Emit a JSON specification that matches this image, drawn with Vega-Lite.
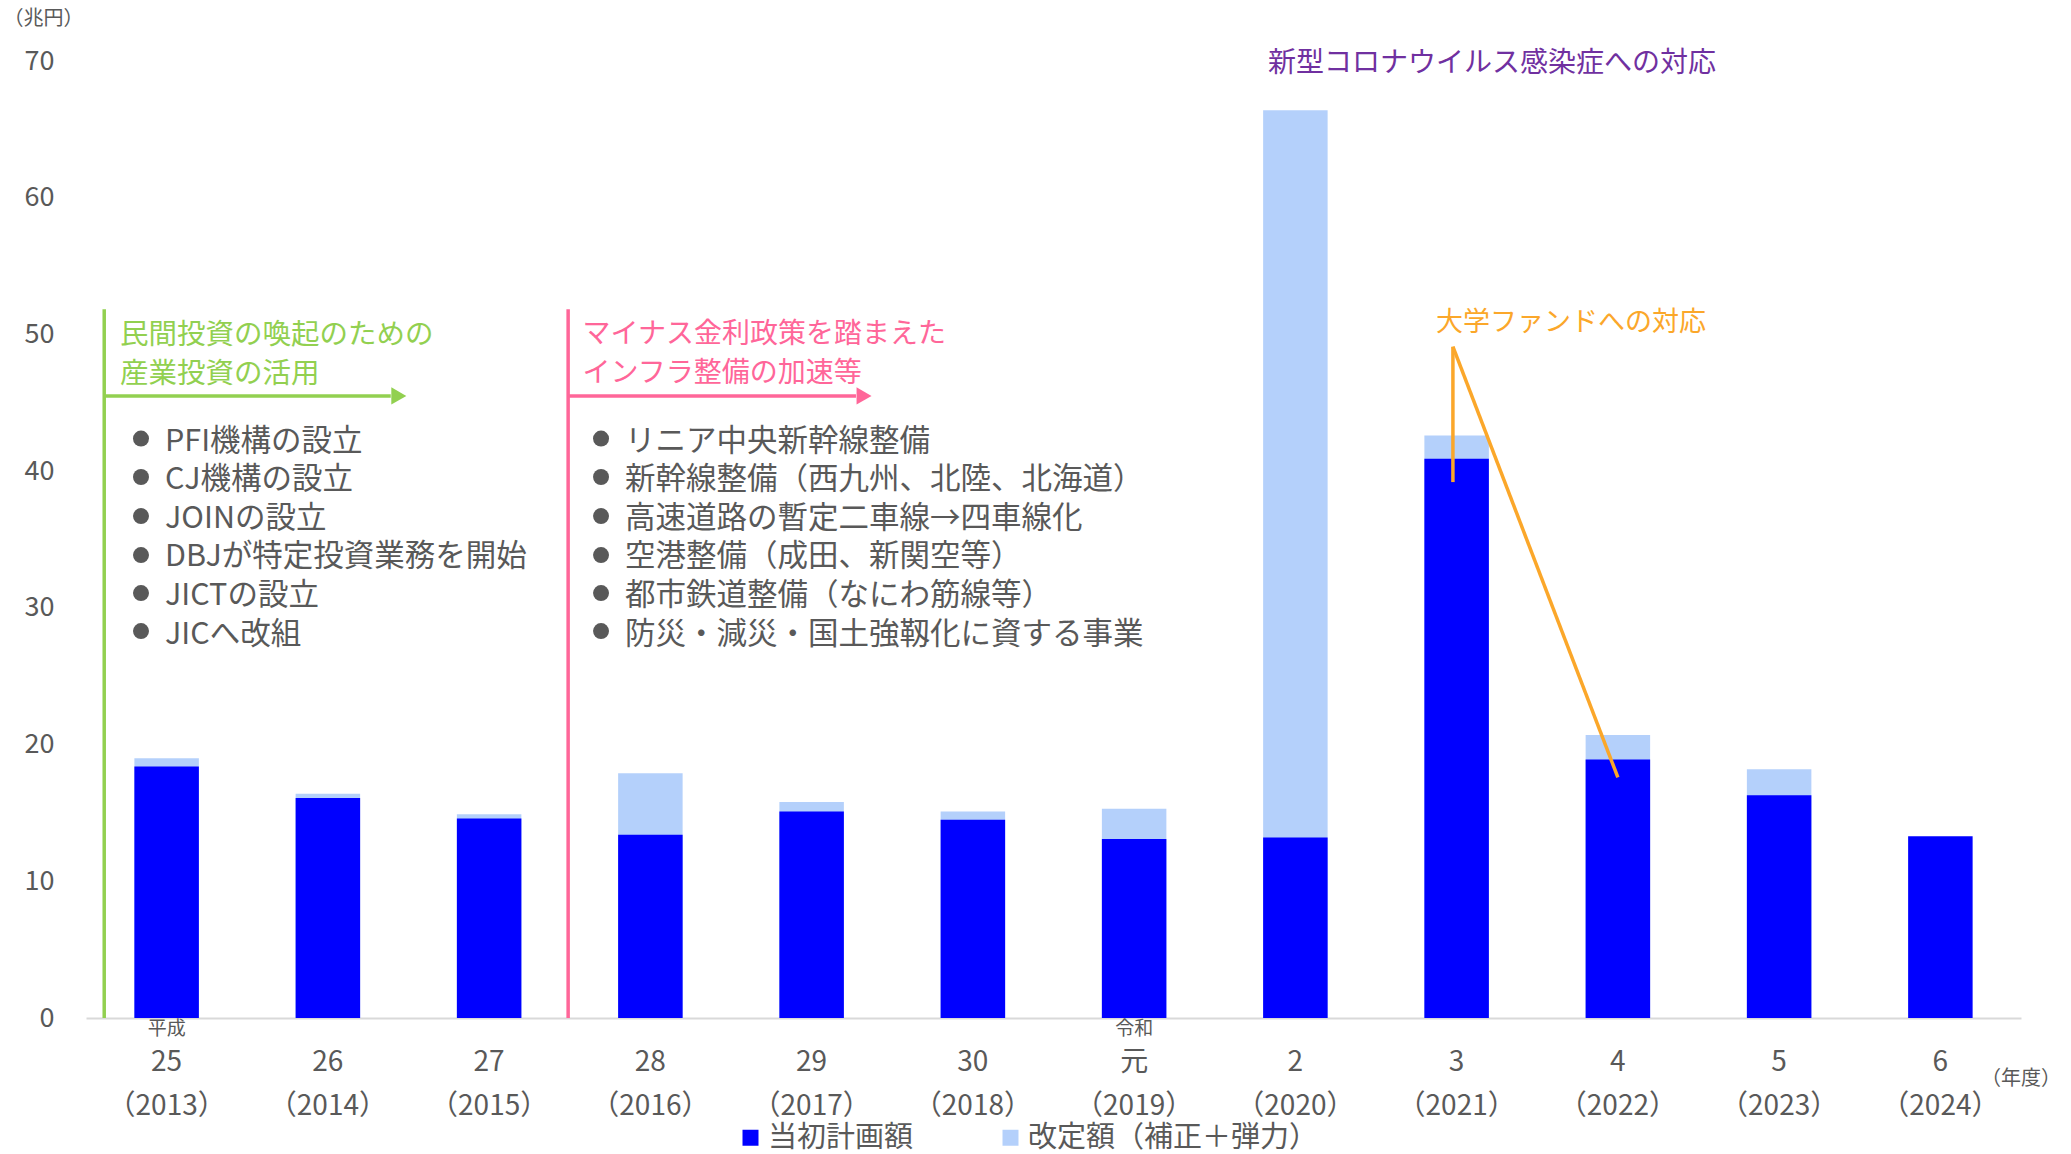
{
  "$schema": "https://vega.github.io/schema/vega-lite/v6.json",
  "width": 1935,
  "height": 957,
  "autosize": {"type": "none"},
  "padding": {"left": 86, "top": 61, "right": 50, "bottom": 136},
  "background": "white",
  "config": {
    "view": {"stroke": null},
    "font": "Noto Sans CJK JP",
    "axisY": {
      "titleAngle": 0, "titleX": -43, "titleY": -43, "titleAlign": "center", "titleBaseline": "middle",
      "titleFontSize": 20, "titleFontWeight": "normal", "titleColor": "#595959",
      "labelFontSize": 27, "labelColor": "#595959", "labelPadding": 32,
      "grid": false, "domain": false, "ticks": false
    }
  },
  "resolve": {"scale": {"x": "independent"}},
  "layer": [
    {
      "data": {"values": [
        {"年度": "25|（2013）", "系列": "改定額（補正＋弾力）", "値": 19.0},
        {"年度": "26|（2014）", "系列": "改定額（補正＋弾力）", "値": 16.4},
        {"年度": "27|（2015）", "系列": "改定額（補正＋弾力）", "値": 14.9},
        {"年度": "28|（2016）", "系列": "改定額（補正＋弾力）", "値": 17.9},
        {"年度": "29|（2017）", "系列": "改定額（補正＋弾力）", "値": 15.8},
        {"年度": "30|（2018）", "系列": "改定額（補正＋弾力）", "値": 15.1},
        {"年度": "元|（2019）", "系列": "改定額（補正＋弾力）", "値": 15.3},
        {"年度": "2|（2020）", "系列": "改定額（補正＋弾力）", "値": 66.4},
        {"年度": "3|（2021）", "系列": "改定額（補正＋弾力）", "値": 42.6},
        {"年度": "4|（2022）", "系列": "改定額（補正＋弾力）", "値": 20.7},
        {"年度": "5|（2023）", "系列": "改定額（補正＋弾力）", "値": 18.2},
        {"年度": "25|（2013）", "系列": "当初計画額", "値": 18.4},
        {"年度": "26|（2014）", "系列": "当初計画額", "値": 16.1},
        {"年度": "27|（2015）", "系列": "当初計画額", "値": 14.6},
        {"年度": "28|（2016）", "系列": "当初計画額", "値": 13.4},
        {"年度": "29|（2017）", "系列": "当初計画額", "値": 15.1},
        {"年度": "30|（2018）", "系列": "当初計画額", "値": 14.5},
        {"年度": "元|（2019）", "系列": "当初計画額", "値": 13.1},
        {"年度": "2|（2020）", "系列": "当初計画額", "値": 13.2},
        {"年度": "3|（2021）", "系列": "当初計画額", "値": 40.9},
        {"年度": "4|（2022）", "系列": "当初計画額", "値": 18.9},
        {"年度": "5|（2023）", "系列": "当初計画額", "値": 16.3},
        {"年度": "6|（2024）", "系列": "当初計画額", "値": 13.3}
      ]},
      "mark": {"type": "bar"},
      "encoding": {
        "x": {
          "field": "年度", "type": "nominal", "sort": null,
          "scale": {"paddingInner": 0.6, "paddingOuter": 0.3},
          "axis": {
            "title": null, "labelExpr": "split(datum.value, '|')", "labelAngle": 0,
            "labelFontSize": 28, "labelColor": "#595959", "labelLineHeight": 44,
            "labelBaseline": "top", "labelPadding": 30, "ticks": false,
            "domainColor": "#D9D9D9", "domainWidth": 2, "grid": false
          }
        },
        "y": {
          "field": "値", "type": "quantitative", "stack": null, "title": "（兆円）",
          "scale": {"domain": [0, 70]},
          "axis": {"values": [0, 10, 20, 30, 40, 50, 60, 70]}
        },
        "color": {
          "field": "系列", "type": "nominal",
          "scale": {"domain": ["当初計画額", "改定額（補正＋弾力）"], "range": ["#0000FF", "#B4D0FB"]},
          "legend": {
            "orient": "none", "legendX": 650, "legendY": 1062, "direction": "horizontal",
            "title": null, "symbolType": "square", "symbolSize": 256, "symbolStrokeWidth": 0,
            "labelFontSize": 29, "labelColor": "#595959", "labelOffset": 3, "labelLimit": 600,
            "columnPadding": 82, "padding": 0
          }
        }
      }
    },
    {
      "data": {"values": [
        {"x": 0.113, "x2": 0.113, "y": 0, "y2": 51.85},
        {"x": 0.113, "x2": 1.89, "y": 45.5, "y2": 45.5}
      ]},
      "mark": {"type": "rule", "color": "#92D050", "strokeWidth": 3.5},
      "encoding": {
        "x": {"field": "x", "type": "quantitative", "scale": {"domain": [0, 12], "nice": false, "zero": false}, "axis": null},
        "x2": {"field": "x2"},
        "y": {"field": "y", "type": "quantitative", "title": "（兆円）", "scale": {"domain": [0, 70]}},
        "y2": {"field": "y2"}
      }
    },
    {
      "data": {"values": [
        {"x": 2.99, "x2": 2.99, "y": 0, "y2": 51.85},
        {"x": 2.99, "x2": 4.775, "y": 45.5, "y2": 45.5}
      ]},
      "mark": {"type": "rule", "color": "#FF6699", "strokeWidth": 3.5},
      "encoding": {
        "x": {"field": "x", "type": "quantitative", "scale": {"domain": [0, 12], "nice": false, "zero": false}, "axis": null},
        "x2": {"field": "x2"},
        "y": {"field": "y", "type": "quantitative", "title": "（兆円）", "scale": {"domain": [0, 70]}},
        "y2": {"field": "y2"}
      }
    },
    {
      "data": {"values": [
        {"x": 8.477, "x2": 8.477, "y": 49.1, "y2": 39.2},
        {"x": 8.477, "x2": 9.5, "y": 49.1, "y2": 17.6}
      ]},
      "mark": {"type": "rule", "color": "#FBA72A", "strokeWidth": 3.5},
      "encoding": {
        "x": {"field": "x", "type": "quantitative", "scale": {"domain": [0, 12], "nice": false, "zero": false}, "axis": null},
        "x2": {"field": "x2"},
        "y": {"field": "y", "type": "quantitative", "title": "（兆円）", "scale": {"domain": [0, 70]}},
        "y2": {"field": "y2"}
      }
    },
    {
      "data": {"values": [{"x": 1.94, "y": 45.5}]},
      "mark": {"type": "point", "shape": "triangle-right", "filled": true, "size": 300, "color": "#92D050", "opacity": 1},
      "encoding": {
        "x": {"field": "x", "type": "quantitative", "scale": {"domain": [0, 12], "nice": false, "zero": false}, "axis": null},
        "y": {"field": "y", "type": "quantitative", "title": "（兆円）", "scale": {"domain": [0, 70]}}
      }
    },
    {
      "data": {"values": [{"x": 4.825, "y": 45.5}]},
      "mark": {"type": "point", "shape": "triangle-right", "filled": true, "size": 300, "color": "#FF6699", "opacity": 1},
      "encoding": {
        "x": {"field": "x", "type": "quantitative", "scale": {"domain": [0, 12], "nice": false, "zero": false}, "axis": null},
        "y": {"field": "y", "type": "quantitative", "title": "（兆円）", "scale": {"domain": [0, 70]}}
      }
    },
    {
      "data": {"values": [
        {"x": 0.341, "y": 42.38}, {"x": 0.341, "y": 39.57}, {"x": 0.341, "y": 36.71},
        {"x": 0.341, "y": 33.86}, {"x": 0.341, "y": 31.08}, {"x": 0.341, "y": 28.30},
        {"x": 3.194, "y": 42.38}, {"x": 3.194, "y": 39.57}, {"x": 3.194, "y": 36.71},
        {"x": 3.194, "y": 33.86}, {"x": 3.194, "y": 31.08}, {"x": 3.194, "y": 28.30}
      ]},
      "mark": {"type": "point", "shape": "circle", "filled": true, "size": 256, "color": "#595959", "opacity": 1},
      "encoding": {
        "x": {"field": "x", "type": "quantitative", "scale": {"domain": [0, 12], "nice": false, "zero": false}, "axis": null},
        "y": {"field": "y", "type": "quantitative", "title": "（兆円）", "scale": {"domain": [0, 70]}}
      }
    },
    {
      "data": {"values": [{"x": 0.211, "y": 49.99, "文": ["民間投資の喚起のための", "産業投資の活用"]}]},
      "mark": {"type": "text", "align": "left", "baseline": "middle", "fontSize": 28.5, "color": "#92D050", "lineHeight": 39.5},
      "encoding": {
        "x": {"field": "x", "type": "quantitative", "scale": {"domain": [0, 12], "nice": false, "zero": false}, "axis": null},
        "y": {"field": "y", "type": "quantitative", "title": "（兆円）", "scale": {"domain": [0, 70]}},
        "text": {"field": "文", "type": "nominal"}
      }
    },
    {
      "data": {"values": [{"x": 3.079, "y": 49.99, "文": ["マイナス金利政策を踏まえた", "インフラ整備の加速等"]}]},
      "mark": {"type": "text", "align": "left", "baseline": "middle", "fontSize": 28, "color": "#FF6699", "lineHeight": 39.5},
      "encoding": {
        "x": {"field": "x", "type": "quantitative", "scale": {"domain": [0, 12], "nice": false, "zero": false}, "axis": null},
        "y": {"field": "y", "type": "quantitative", "title": "（兆円）", "scale": {"domain": [0, 70]}},
        "text": {"field": "文", "type": "nominal"}
      }
    },
    {
      "data": {"values": [
        {"x": 0.49, "y": 42.16, "文": ["PFI機構の設立", "CJ機構の設立", "JOINの設立", "DBJが特定投資業務を開始", "JICTの設立", "JICへ改組"]},
        {"x": 3.343, "y": 42.16, "文": ["リニア中央新幹線整備", "新幹線整備（西九州、北陸、北海道）", "高速道路の暫定二車線→四車線化", "空港整備（成田、新関空等）", "都市鉄道整備（なにわ筋線等）", "防災・減災・国土強靱化に資する事業"]}
      ]},
      "mark": {"type": "text", "align": "left", "baseline": "middle", "fontSize": 30.5, "color": "#595959", "lineHeight": 38.6},
      "encoding": {
        "x": {"field": "x", "type": "quantitative", "scale": {"domain": [0, 12], "nice": false, "zero": false}, "axis": null},
        "y": {"field": "y", "type": "quantitative", "title": "（兆円）", "scale": {"domain": [0, 70]}},
        "text": {"field": "文", "type": "nominal"}
      }
    },
    {
      "data": {"values": [{"x": 8.72, "y": 69.81, "文": "新型コロナウイルス感染症への対応"}]},
      "mark": {"type": "text", "align": "center", "baseline": "middle", "fontSize": 28, "color": "#7030A0"},
      "encoding": {
        "x": {"field": "x", "type": "quantitative", "scale": {"domain": [0, 12], "nice": false, "zero": false}, "axis": null},
        "y": {"field": "y", "type": "quantitative", "title": "（兆円）", "scale": {"domain": [0, 70]}},
        "text": {"field": "文", "type": "nominal"}
      }
    },
    {
      "data": {"values": [{"x": 9.21, "y": 50.86, "文": "大学ファンドへの対応"}]},
      "mark": {"type": "text", "align": "center", "baseline": "middle", "fontSize": 27, "color": "#FBA72A"},
      "encoding": {
        "x": {"field": "x", "type": "quantitative", "scale": {"domain": [0, 12], "nice": false, "zero": false}, "axis": null},
        "y": {"field": "y", "type": "quantitative", "title": "（兆円）", "scale": {"domain": [0, 70]}},
        "text": {"field": "文", "type": "nominal"}
      }
    },
    {
      "data": {"values": [
        {"x": 0.5, "y": -0.8, "文": "平成"},
        {"x": 6.5, "y": -0.8, "文": "令和"}
      ]},
      "mark": {"type": "text", "align": "center", "baseline": "middle", "fontSize": 19, "color": "#595959"},
      "encoding": {
        "x": {"field": "x", "type": "quantitative", "scale": {"domain": [0, 12], "nice": false, "zero": false}, "axis": null},
        "y": {"field": "y", "type": "quantitative", "title": "（兆円）", "scale": {"domain": [0, 70]}},
        "text": {"field": "文", "type": "nominal"}
      }
    },
    {
      "data": {"values": [
        {"x": 12.0, "y": -4.46, "文": "（年度）"}
      ]},
      "mark": {"type": "text", "align": "center", "baseline": "middle", "fontSize": 20, "color": "#595959"},
      "encoding": {
        "x": {"field": "x", "type": "quantitative", "scale": {"domain": [0, 12], "nice": false, "zero": false}, "axis": null},
        "y": {"field": "y", "type": "quantitative", "title": "（兆円）", "scale": {"domain": [0, 70]}},
        "text": {"field": "文", "type": "nominal"}
      }
    }
  ]
}
